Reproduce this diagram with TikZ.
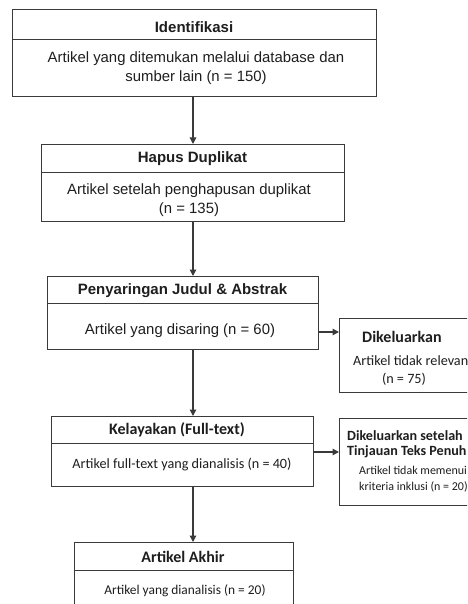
\documentclass[tikz,border=0pt]{standalone}
\usepackage{fontspec}
\setmainfont{Liberation Sans}
\newfontfamily\cf{Carlito}
\usetikzlibrary{arrows.meta}
\definecolor{ln}{HTML}{3A3A3A}
\definecolor{tx}{HTML}{1E1E1E}
\begin{document}
\begin{tikzpicture}[x=1pt,y=-1pt,
  boxnode/.style={draw=ln,line width=1.3pt,rectangle,inner sep=0pt,anchor=north west},
  divline/.style={draw=ln,line width=1pt},
  arr/.style={draw=ln,line width=1.3pt,-{Triangle[length=6.5pt,width=6.5pt]}},
  hdA/.style={text=tx,font=\fontsize{15}{18}\selectfont\bfseries,inner sep=0pt},
  bdA/.style={text=tx,font=\fontsize{14.9}{19.5}\selectfont,inner sep=0pt,align=center},
  hdB/.style={text=tx,font=\cf\fontsize{16}{19}\selectfont\bfseries,inner sep=0pt},
  bdB/.style={text=tx,font=\cf\fontsize{14.2}{17}\selectfont,inner sep=0pt,align=center}]
\useasboundingbox (0,0) rectangle (467,604);
\clip (0,0) rectangle (467,604);
\fill[white] (0,0) rectangle (467,604);
\coordinate (ax) at (193,0);
% dividers y
\coordinate (d1) at (0,40);
\coordinate (d2) at (0,172);
\coordinate (d3) at (0,303);
\coordinate (d5) at (0,443);
\coordinate (d7) at (0,570);
\coordinate (h3) at (0,332);
\coordinate (h5) at (0,452);
% Box 1
\node[boxnode,minimum width=364pt,minimum height=87pt] (b1) at (12,9) {};
\draw[divline] (b1.west |- d1) -- (b1.east |- d1);
\node[hdA] (t1a) at (194,27) {Identifikasi};
\node[bdA] (t1b) at (196,68) {Artikel yang ditemukan melalui database dan\\sumber lain (n = 150)};
% Box 2
\node[boxnode,minimum width=303pt,minimum height=77pt] (b2) at (41,144) {};
\draw[divline] (b2.west |- d2) -- (b2.east |- d2);
\node[hdA] (t2a) at (192.5,159) {Hapus Duplikat};
\node[bdA] (t2b) at (189,200) {Artikel setelah penghapusan duplikat\\(n = 135)};
% Box 3
\node[boxnode,minimum width=271pt,minimum height=73pt] (b3) at (47,276) {};
\draw[divline] (b3.west |- d3) -- (b3.east |- d3);
\node[hdA] (t3a) at (182.5,291) {Penyaringan Judul \& Abstrak};
\node[bdA] (t3b) at (180,331) {Artikel yang disaring (n = 60)};
% Box 4
\node[boxnode,minimum width=135pt,minimum height=74pt] (b4) at (339,318) {};
\node[hdB,anchor=west] (t4a) at (362,337) {Dikeluarkan};
\node[bdB,anchor=west] (t4b) at (353,361) {Artikel tidak relevan};
\node[bdB] (t4c) at (404,379) {(n = 75)};
% Box 5
\node[boxnode,minimum width=262pt,minimum height=70pt] (b5) at (51,416) {};
\draw[divline] (b5.west |- d5) -- (b5.east |- d5);
\node[hdB] (t5a) at (177,430) {Kelayakan (Full-text)};
\node[bdB] (t5b) at (182,465) {Artikel full-text yang dianalisis (n = 40)};
% Box 6
\node[boxnode,minimum width=135pt,minimum height=87pt] (b6) at (339,418) {};
\node[hdB,font=\cf\fontsize{14.1}{15}\selectfont\bfseries,anchor=west,align=left] (t6a) at (347,444.5) {Dikeluarkan setelah\\Tinjauan Teks Penuh};
\node[bdB,font=\cf\fontsize{12}{16}\selectfont,anchor=west,align=left] (t6b) at (359,479) {Artikel tidak memenui\\kriteria inklusi (n = 20)};
% Box 7
\node[boxnode,minimum width=219pt,minimum height=75pt] (b7) at (74,542) {};
\draw[divline] (b7.west |- d7) -- (b7.east |- d7);
\node[hdB] (t7a) at (183,557) {Artikel Akhir};
\node[bdB,font=\cf\fontsize{13.4}{16}\selectfont] (t7b) at (185,591) {Artikel yang dianalisis (n = 20)};
% Arrows
\draw[arr] (b1.south -| ax) -- (b2.north -| ax);
\draw[arr] (b2.south -| ax) -- (b3.north -| ax);
\draw[arr] (b3.south -| ax) -- (b5.north -| ax);
\draw[arr] (b5.south -| ax) -- (b7.north -| ax);
\draw[arr] (b3.east |- h3) -- (b4.west |- h3);
\draw[arr] (b5.east |- h5) -- (b6.west |- h5);
\end{tikzpicture}
\end{document}
